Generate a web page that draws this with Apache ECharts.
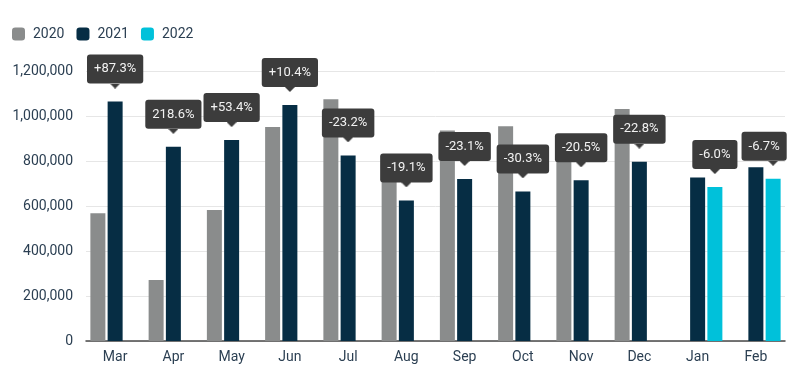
<!DOCTYPE html>
<html>
<head>
<meta charset="utf-8">
<script src="https://cdn.jsdelivr.net/npm/echarts@6/dist/echarts.min.js"></script>
<style>
html,body{margin:0;padding:0;background:#fff;}
#chart{width:800px;height:374px;}
</style>
</head>
<body>
<div id="chart"></div>
<script>
const categories = ['Mar','Apr','May','Jun','Jul','Aug','Sep','Oct','Nov','Dec','Jan','Feb'];
const values2020 = [568000, 271000, 582000, 951000, 1074000, 773000, 936000, 954000, 898000, 1031000, null, null];
const values2021 = [1064000, 863000, 893000, 1049000, 825000, 625000, 720000, 665000, 714000, 797000, 727000, 772000];
const values2022 = [null, null, null, null, null, null, null, null, null, null, 684000, 721000];
const changeLabels = ['+87.3%','218.6%','+53.4%','+10.4%','-23.2%','-19.1%','-23.1%','-30.3%','-20.5%','-22.8%','-6.0%','-6.7%'];
const yTicks = [0, 200000, 400000, 600000, 800000, 1000000, 1200000];

const FONT = 'Roboto';
const TEXT = '#2b3f52';
const BOX = '#3c3c3c';

// small downward pointer drawn once, used as a rich-text background image
const tri = document.createElement('canvas');
tri.width = 10; tri.height = 5;
(function () {
  const c = tri.getContext('2d');
  c.fillStyle = BOX;
  c.beginPath(); c.moveTo(0, 0); c.lineTo(10, 0); c.lineTo(5, 5); c.closePath(); c.fill();
})();

// shift: horizontal nudge of the box (keeps the pointer on the bar)
const calloutLabel = (txt, shift) => {
  shift = shift || 0;
  const pointer = shift ? '{s| }{a| }' : '{a| }';
  return {
    show: true,
    position: 'top',
    distance: 13,
    offset: [shift, 0],
    formatter: '{b|' + txt + '}\n' + pointer,
    rich: {
      b: { backgroundColor: BOX, color: '#f2f2f2', fontFamily: FONT, fontSize: 13, lineHeight: 29, height: 29, padding: [0, 7, 0, 7], borderRadius: 3 },
      s: { width: Math.abs(2 * shift), height: 5, lineHeight: 5, fontSize: 5 },
      a: { width: 10, height: 5, lineHeight: 5, fontSize: 5, backgroundColor: { image: tri } }
    }
  };
};

const lastIdx = categories.length - 1;
const data2021 = values2021.map((v, i) => values2022[i] == null ? { value: v, label: calloutLabel(changeLabels[i]) } : { value: v });
const data2022 = values2022.map((v, i) => v != null ? { value: v, label: calloutLabel(changeLabels[i], i === lastIdx ? -9 : 0) } : { value: v });

const chart = echarts.init(document.getElementById('chart'), null, { renderer: 'canvas' });
chart.setOption({
  animation: false,
  backgroundColor: '#fff',
  legend: {
    left: 12, top: 27, padding: 0,
    itemWidth: 13, itemHeight: 13, itemGap: 12,
    icon: 'roundRect',
    textStyle: { fontFamily: FONT, fontSize: 14, color: TEXT, padding: [0, 0, 0, 3] },
    data: ['2020', '2021', '2022']
  },
  grid: { left: 86, right: 15, top: 71, bottom: 33, containLabel: false },
  xAxis: {
    type: 'category',
    data: categories,
    axisTick: { show: false },
    axisLine: { lineStyle: { color: '#4a4a4a', width: 1.5 } },
    axisLabel: { fontFamily: FONT, fontSize: 14, color: TEXT, margin: 9 }
  },
  yAxis: {
    type: 'value',
    min: yTicks[0], max: yTicks[yTicks.length - 1], interval: yTicks[1] - yTicks[0],
    axisLine: { show: false },
    axisTick: { show: false },
    splitLine: { lineStyle: { color: '#e6e6e6', width: 1 } },
    axisLabel: { fontFamily: FONT, fontSize: 14, color: TEXT, margin: 13, formatter: v => v.toLocaleString('en-US') }
  },
  series: [
    { name: '2020', type: 'bar', data: values2020, barWidth: 15, barGap: '15%', itemStyle: { color: '#8a8c8c' } },
    { name: '2021', type: 'bar', data: data2021, barWidth: 15, barGap: '15%', itemStyle: { color: '#062d44' } },
    { name: '2022', type: 'bar', data: data2022, barWidth: 15, barGap: '15%', itemStyle: { color: '#00c1da' } }
  ]
});
</script>
</body>
</html>
